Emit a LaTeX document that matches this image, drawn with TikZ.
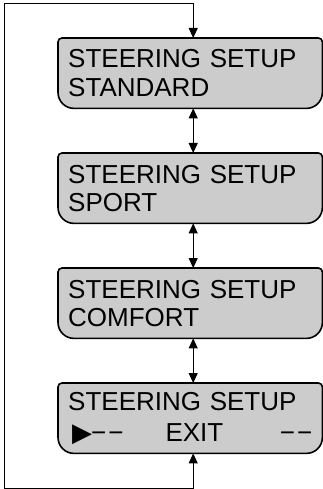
\documentclass[tikz,border=0pt]{standalone}
\usepackage{fontspec}
\setmainfont{Liberation Sans}
\newfontfamily\symfont{DejaVu Sans}
\usetikzlibrary{arrows.meta, backgrounds}

\begin{document}
\begin{tikzpicture}[
	x=1pt, y=-1pt,
	box/.style={
		rectangle,
		anchor=north west,
		minimum width=264pt,
		minimum height=70pt,
		inner xsep=10pt,
		inner ysep=0pt,
		text width=244pt,
		align=left,
		font=\fontsize{26}{28.3}\selectfont
	},
	frame/.style={draw=black, fill=black!20, line width=1.6pt},
	arrow/.style={{Triangle[length=10pt,width=9pt]}-{Triangle[length=10pt,width=9pt]}, line width=1pt}
]
	\useasboundingbox (0,0) rectangle (323,489);

	\node[box] (standard) at (58,38) {STEERING SETUP\\STANDARD};
	\node[box] (sport) at (58,153) {STEERING SETUP\\SPORT};
	\node[box] (comfort) at (58,268) {STEERING SETUP\\COMFORT};
	\node[box] (exit) at (58,383) {STEERING SETUP\\[3pt]\makebox[244pt][l]{\kern4pt{\symfont\fontsize{26}{26}\selectfont ▶}\kern-1pt−\kern2pt−\hspace{42pt}EXIT\hfill−\kern2pt−}};

	\coordinate (loopbot) at (4,488);
	\coordinate (looptop) at (4,4);

	\begin{scope}[on background layer]
		\foreach \n in {standard, sport, comfort, exit}
			\path[frame] (\n.north) [rounded corners=4pt] -- (\n.north east) -- (\n.east)
				[rounded corners=16pt] -- (\n.south east) -- (\n.south) -- (\n.south west) -- (\n.west)
				[rounded corners=4pt] -- (\n.north west) -- cycle;
	\end{scope}

	\draw[arrow] ([xshift=3pt]standard.south) -- ([xshift=3pt]sport.north);
	\draw[arrow] ([xshift=3pt]sport.south) -- ([xshift=3pt]comfort.north);
	\draw[arrow] ([xshift=3pt]comfort.south) -- ([xshift=3pt]exit.north);
	\draw[arrow] ([xshift=3pt]exit.south) |- (loopbot) -- (looptop) -| ([xshift=3pt]standard.north);

\end{tikzpicture}
\end{document}
